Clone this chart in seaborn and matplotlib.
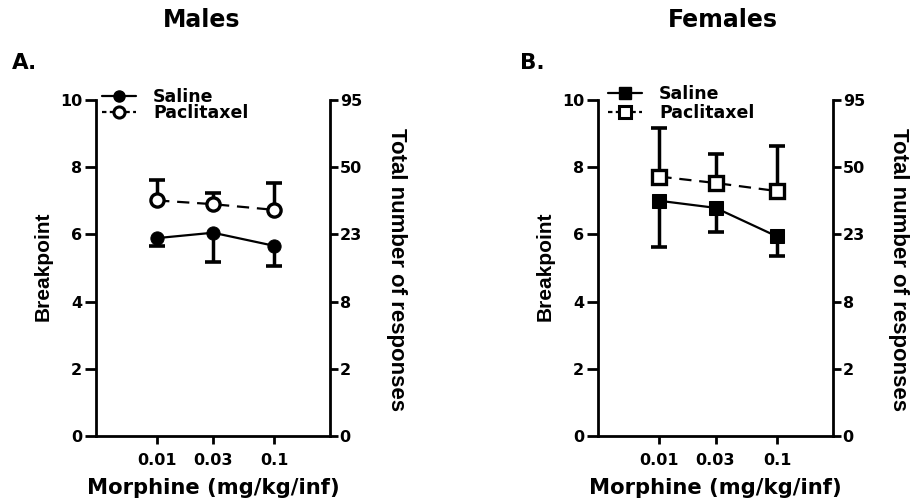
import numpy as np
import pandas as pd
import matplotlib
matplotlib.use("Agg")
import matplotlib.pyplot as plt
import seaborn as sns
from matplotlib.lines import Line2D

doses = [0.01, 0.03, 0.1]
dose_labels = ["0.01", "0.03", "0.1"]

male_saline = [5.89, 6.05, 5.66]
male_saline_err = [0.24, 0.88, 0.60]
male_pac = [7.01, 6.90, 6.73]
male_pac_err = [0.60, 0.32, 0.80]

female_saline = [7.00, 6.79, 5.94]
female_saline_err = [1.38, 0.72, 0.58]
female_pac = [7.72, 7.53, 7.29]
female_pac_err = [1.44, 0.87, 1.33]

left_ticks = [0, 2, 4, 6, 8, 10]
right_tick_labels = ["0", "2", "8", "23", "50", "95"]

sns.set_style("ticks")
plt.rcParams['font.family'] = ['DejaVu Sans']
plt.rcParams['font.weight'] = 'bold'
for k in ["text.color", "axes.labelcolor", "xtick.color", "ytick.color", "axes.edgecolor"]:
    plt.rcParams[k] = "black"

W, H = 915, 500
fig = plt.figure(figsize=(9.15, 5), dpi=100)
axL = fig.add_axes([96/W, 1-436/H, (330-96)/W, 336/H])
axR = fig.add_axes([598/W, 1-436/H, (833-598)/W, 336/H])

ARIAL = ['Liberation Sans', 'DejaVu Sans']


def panel(ax, sal, sal_err, pac, pac_err, marker, ms, title, letter, letter_x,
          title_x, off):
    df = pd.DataFrame({
        "dose": doses * 2,
        "bp": sal + pac,
        "group": ["Saline"] * 3 + ["Paclitaxel"] * 3,
    })
    ax.set_xscale("log")
    sal_low = [v - e for v, e in zip(sal, sal_err)]
    pac_high = [v + e for v, e in zip(pac, pac_err)]
    # one-sided error bars (stem + single cap)
    ax.errorbar(doses, sal, yerr=[sal_err, [0, 0, 0]], fmt="none", ecolor="black",
                elinewidth=2.5, capsize=0, zorder=2)
    ax.errorbar(doses, pac, yerr=[[0, 0, 0], pac_err], fmt="none", ecolor="black",
                elinewidth=2.5, capsize=0, zorder=2)
    ax.plot(doses, sal_low, ls="none", marker="_", ms=12, mew=2.6, color="black", zorder=2)
    ax.plot(doses, pac_high, ls="none", marker="_", ms=12, mew=2.6, color="black", zorder=2)
    sns.lineplot(data=df[df.group == "Saline"], x="dose", y="bp", ax=ax, color="black",
                 lw=1.6, marker=marker, markersize=ms, markerfacecolor="black",
                 markeredgecolor="black", legend=False, zorder=3)
    sns.lineplot(data=df[df.group == "Paclitaxel"], x="dose", y="bp", ax=ax, color="black",
                 lw=1.6, linestyle=(0, (5.5, 3.5)), marker=marker, markersize=ms,
                 markerfacecolor="white", markeredgecolor="black", markeredgewidth=2.4,
                 legend=False, zorder=3)
    ax.set_xlim(0.003, 0.3)
    ax.set_ylim(0, 10)
    ax.set_xticks(doses)
    ax.set_xticklabels(dose_labels)
    ax.minorticks_off()
    ax.set_yticks(left_ticks)
    ax.set_yticklabels([str(t) for t in left_ticks])
    ax.set_xlabel("")
    ax.set_ylabel("")
    for s in ["left", "bottom"]:
        ax.spines[s].set_linewidth(2)
    ax.spines["top"].set_visible(False)
    ax.spines["right"].set_visible(False)
    ax.tick_params(axis="y", width=2, length=8, pad=2, labelsize=11.5)
    ax.tick_params(axis="x", width=2, length=6, pad=6, labelsize=11.5)
    for lab in ax.get_xticklabels() + ax.get_yticklabels():
        lab.set_fontweight("bold")

    tw = ax.twinx()
    tw.set_ylim(0, 10)
    tw.set_yticks(left_ticks)
    tw.set_yticklabels(right_tick_labels)
    tw.spines["right"].set_linewidth(2)
    for s in ["left", "bottom", "top"]:
        tw.spines[s].set_visible(False)
    tw.tick_params(axis="y", width=2, length=6, pad=1, labelsize=11.5)
    for lab in tw.get_yticklabels():
        lab.set_fontweight("bold")
    tw.set_ylabel("")

    # axis labels
    fig.text((43 + off)/W, 1-266/H, "Breakpoint", rotation=90, ha="center", va="center",
             fontsize=15, fontweight="heavy", family=ARIAL)
    fig.text((397 + off)/W, 1-270/H, "Total number of responses", rotation=270,
             ha="center", va="center", fontsize=16, fontweight="bold", family=ARIAL)
    fig.text((213 + off)/W, 1-494/H, "Morphine (mg/kg/inf)", ha="center",
             va="baseline", fontsize=15.2, fontweight="bold")
    fig.text(title_x/W, 1-27/H, title, fontsize=17, fontweight="bold",
             ha="center", va="baseline")
    fig.text(letter_x/W, 1-69/H, letter, fontsize=15.5, fontweight="bold",
             ha="left", va="baseline")

    handles = [
        Line2D([], [], color="black", lw=1.6, marker=marker, markersize=ms - 1.5,
               markerfacecolor="black", markeredgecolor="black"),
        Line2D([], [], color="black", lw=1.6, linestyle=(0, (2, 1.5)), marker=marker,
               markersize=ms - 1.5, markerfacecolor="white", markeredgecolor="black",
               markeredgewidth=2.2),
    ]
    return handles


hL = panel(axL, male_saline, male_saline_err, male_pac, male_pac_err, "o", 9.5,
           "Males", "A.", 12, 202, 0)
hR = panel(axR, female_saline, female_saline_err, female_pac, female_pac_err, "s", 10.5,
           "Females", "B.", 520, 723, 502)

for h, x0, y0, sp in [(hL, 102, 88, -0.1), (hR, 608, 85, 0.05)]:
    fig.legend(h, ["Saline", "Paclitaxel"], loc="upper left",
               bbox_to_anchor=(x0/W, 1-y0/H), frameon=False,
               handlelength=1.95, handletextpad=1.0, labelspacing=sp,
               borderaxespad=0, borderpad=0,
               prop={"weight": "bold", "size": 12.5, "family": "DejaVu Sans"})

fig.savefig("out.png", dpi=100)
